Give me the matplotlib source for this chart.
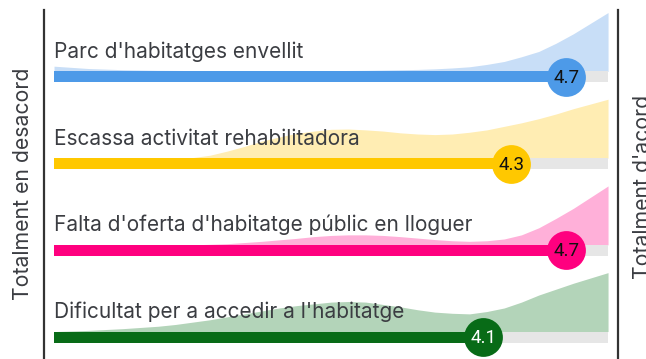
import matplotlib
matplotlib.use("Agg")
import matplotlib.pyplot as plt
import numpy as np

# Survey statements (top to bottom), mean agreement scores on a 1-5 scale
statements = [
    "Parc d'habitatges envellit",
    "Escassa activitat rehabilitadora",
    "Falta d'oferta d'habitatge públic en lloguer",
    "Dificultat per a accedir a l'habitatge",
]
means = [4.7, 4.3, 4.7, 4.1]
mean_labels = ["4.7", "4.3", "4.7", "4.1"]

# Relative density of answers along the scale (1 = peak of each row)
scale_grid = [1.0, 1.125, 1.25, 1.375, 1.5, 1.625, 1.75, 1.875, 2.0,
              2.125, 2.25, 2.375, 2.5, 2.625, 2.75, 2.875, 3.0,
              3.125, 3.25, 3.375, 3.5, 3.625, 3.75, 3.875, 4.0,
              4.125, 4.25, 4.375, 4.5, 4.625, 4.75, 4.875, 5.0]
density_parc = [0.09, 0.07, 0.05, 0.04, 0.03, 0.025, 0.02, 0.018, 0.015,
                0.015, 0.015, 0.015, 0.015, 0.015, 0.015, 0.015, 0.015,
                0.017, 0.02, 0.025, 0.03, 0.035, 0.045, 0.06, 0.08,
                0.12, 0.17, 0.25, 0.34, 0.48, 0.64, 0.82, 1.0]
density_rehab = [0.0, 0.0, 0.0, 0.0, 0.0, 0.0, 0.0, 0.0, 0.01,
                 0.05, 0.12, 0.20, 0.29, 0.36, 0.42, 0.46, 0.49,
                 0.495, 0.48, 0.46, 0.43, 0.41, 0.40, 0.41, 0.44,
                 0.48, 0.54, 0.60, 0.67, 0.75, 0.84, 0.92, 1.0]
density_oferta = [0.0, 0.0, 0.0, 0.0, 0.0, 0.0, 0.0, 0.0, 0.0,
                  0.01, 0.02, 0.04, 0.06, 0.085, 0.11, 0.14, 0.16,
                  0.17, 0.17, 0.16, 0.14, 0.115, 0.09, 0.07, 0.06,
                  0.07, 0.10, 0.17, 0.29, 0.45, 0.62, 0.81, 1.0]
density_acces = [0.0, 0.01, 0.02, 0.035, 0.05, 0.07, 0.09, 0.12, 0.16,
                 0.20, 0.25, 0.30, 0.35, 0.40, 0.44, 0.47, 0.50,
                 0.51, 0.50, 0.46, 0.42, 0.37, 0.33, 0.31, 0.30,
                 0.34, 0.40, 0.50, 0.62, 0.72, 0.82, 0.91, 1.0]
densities = [density_parc, density_rehab, density_oferta, density_acces]

bar_colors = ["#4d9ae8", "#ffc800", "#ff007f", "#086b17"]
area_colors = ["#c8def7", "#ffedb3", "#ffb0d9", "#b3d4b9"]
value_text_colors = ["#111111", "#111111", "#111111", "#ffffff"]

left_title = "Totalment en desacord"
right_title = "Totalment d'acord"

FONT = "Inter"
TEXT_COLOR = "#3b3d42"

fig = plt.figure(figsize=(6.46, 3.59), dpi=100)
ax = fig.add_axes([0, 0, 1, 1])
ax.set_xlim(0.610, 5.274)
ax.set_ylim(3.253, -0.888)
ax.axis("off")

bar_half = 0.0634
area_scale = 0.68

for i, (label, m, txt, dens) in enumerate(zip(statements, means, mean_labels, densities)):
    base = i - bar_half
    ax.fill_between(scale_grid, base, base - area_scale * np.asarray(dens),
                    color=area_colors[i], linewidth=0, zorder=1)
    # grey track for the full scale, coloured bar up to the mean
    ax.barh(i, 4.0, left=1.0, height=2 * bar_half, color="#e6e6e6", zorder=2)
    ax.barh(i, m - 1.0, left=1.0, height=2 * bar_half, color=bar_colors[i], zorder=3)
    ax.scatter([m], [i], s=780, color=bar_colors[i], zorder=4, linewidths=0)
    ax.text(m, i + 0.01, txt, ha="center", va="center", fontsize=13.5,
            color=value_text_colors[i], family="Roboto", zorder=5)
    ax.text(1.0, i - 0.218, label, ha="left", va="baseline", fontsize=15,
            color=TEXT_COLOR, family=FONT, zorder=6)

ax.axvline(0.928, ymin=0.0, ymax=0.972, color="#333333", linewidth=1.6)
ax.axvline(5.072, ymin=0.0, ymax=0.972, color="#333333", linewidth=1.6)

ax.text(0.776, 1.234, left_title, rotation=90, ha="center", va="center",
        fontsize=15.3, color=TEXT_COLOR, family=FONT)
ax.text(5.25, 1.27, right_title, rotation=90, ha="center", va="center",
        fontsize=15.3, color=TEXT_COLOR, family=FONT)

fig.savefig("out.png", dpi=100)
